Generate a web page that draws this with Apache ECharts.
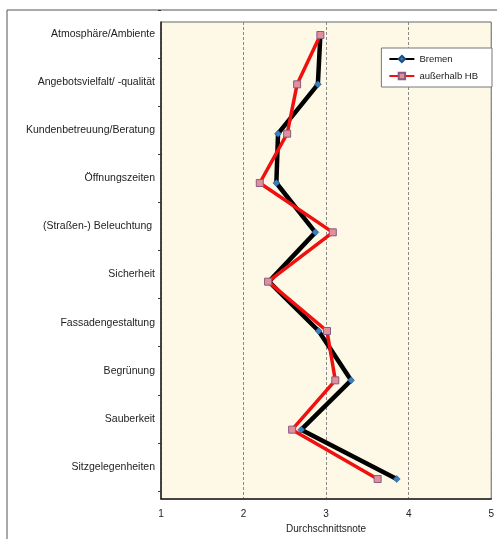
<!DOCTYPE html>
<html>
<head>
<meta charset="utf-8">
<script src="https://cdn.jsdelivr.net/npm/echarts@6/dist/echarts.min.js"></script>
<style>
  html, body { margin: 0; padding: 0; background: #fff; }
  #chart { width: 497px; height: 539px; }
</style>
</head>
<body>
<div id="chart"></div>
<script>
// Kategorien von oben nach unten
const categories = [
    'Atmosphäre/Ambiente',
    'Angebotsvielfalt/ -qualität',
    'Kundenbetreuung/Beratung',
    'Öffnungszeiten',
    '(Straßen-) Beleuchtung ',
    'Sicherheit',
    'Fassadengestaltung',
    'Begrünung',
    'Sauberkeit',
    'Sitzgelegenheiten'
];
const bremen = [2.92, 2.89, 2.41, 2.39, 2.86, 2.30, 2.90, 3.29, 2.69, 3.84];
const ausserhalb = [2.92, 2.64, 2.52, 2.19, 3.07, 2.29, 3.00, 3.10, 2.58, 3.61];
const xTicks = [1, 2, 3, 4, 5];

const chart = echarts.init(document.getElementById('chart'));
const font = 'Liberation Sans, Arial, sans-serif';

const option = {
    animation: false,
    textStyle: { fontFamily: font },
    graphic: [{
        type: 'rect',
        shape: { x: 7, y: 10, width: 495, height: 540 },
        style: { fill: 'none', stroke: '#555', lineWidth: 1 },
        silent: true
    }],
    legend: {
        right: 5,
        top: 48,
        orient: 'vertical',
        backgroundColor: '#fff',
        borderColor: '#777',
        borderWidth: 1,
        padding: [5, 14, 5, 7],
        itemGap: 5,
        itemWidth: 25,
        itemHeight: 8,
        textStyle: { fontSize: 9.5, lineHeight: 12, color: '#222', fontFamily: font },
        data: ['Bremen', 'außerhalb HB']
    },
    grid: [
        // Hintergrund / Zeichenfläche
        { left: 161, right: 4, top: 22, bottom: 36, show: true,
          backgroundColor: '#fdf9e6', borderColor: '#666', borderWidth: 1 },
        // Beschriftungen der Kategorien
        { left: 161, right: 4, top: 10, bottom: 48 },
        // Datenlinien
        { left: 161, right: 4, top: 35, bottom: 60 }
    ],
    xAxis: [
        {
            gridIndex: 0, type: 'value', min: 1, max: 5, interval: 1,
            name: 'Durchschnittsnote', nameLocation: 'middle', nameGap: 25,
            nameTextStyle: { fontSize: 10, color: '#222' },
            axisLine: { lineStyle: { color: '#222', width: 1.5 } },
            axisTick: { show: false },
            axisLabel: { fontSize: 10, color: '#222', margin: 10,
                formatter: v => xTicks.includes(v) ? String(v) : '' },
            splitLine: { show: true, lineStyle: { color: '#888', type: [3, 2], width: 1 } }
        },
        { gridIndex: 1, type: 'value', min: 1, max: 5, show: false },
        { gridIndex: 2, type: 'value', min: 1, max: 5, show: false }
    ],
    yAxis: [
        {
            gridIndex: 0, type: 'value', min: 0, max: 1,
            axisLine: { show: true, lineStyle: { color: '#222', width: 1.5 } },
            axisTick: { show: false }, axisLabel: { show: false },
            splitLine: { show: false }
        },
        {
            gridIndex: 1, type: 'category', inverse: true, boundaryGap: true,
            data: categories,
            axisLine: { show: false },
            axisTick: { show: true, length: 3, lineStyle: { color: '#333' } },
            axisLabel: { fontSize: 10.5, color: '#222', margin: 6 }
        },
        {
            gridIndex: 2, type: 'category', inverse: true, boundaryGap: false,
            data: categories, show: false
        }
    ],
    series: [
        {
            name: 'Bremen',
            type: 'line',
            xAxisIndex: 2, yAxisIndex: 2,
            data: bremen,
            symbol: 'diamond',
            symbolSize: 7,
            lineStyle: { color: '#000', width: 4.5 },
            itemStyle: { color: '#3a7fc0', borderColor: '#1c4f80', borderWidth: 0.5 },
            z: 3
        },
        {
            name: 'außerhalb HB',
            type: 'line',
            xAxisIndex: 2, yAxisIndex: 2,
            data: ausserhalb,
            symbol: 'rect',
            symbolSize: 7,
            lineStyle: { color: '#f01010', width: 3.5 },
            itemStyle: { color: '#e0909a', borderColor: '#8a5a80', borderWidth: 1 },
            z: 4
        }
    ]
};

// Datenreihen als Paare [Wert, Kategorie]
option.series.forEach(s => {
    s.data = s.data.map((v, i) => [v, categories[i]]);
});

chart.setOption(option);
</script>
</body>
</html>
